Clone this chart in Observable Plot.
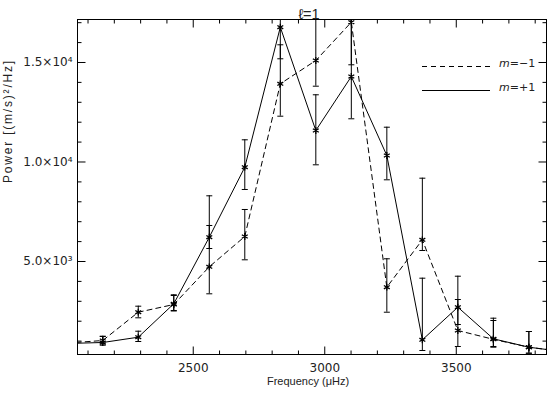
<!DOCTYPE html>
<html><head><meta charset="utf-8">
<script src="https://cdn.jsdelivr.net/npm/d3@7"></script>
<script src="https://cdn.jsdelivr.net/npm/@observablehq/plot@0.6"></script>
<style>
body{margin:0;background:#fff;}
#chart svg{font-family:"Liberation Sans",Arial,sans-serif;}
</style>
</head><body><div id="chart"></div>
<script>
// ---- data ----
const freq       = [2021, 2156, 2291, 2426, 2561, 2696, 2831, 2966, 3101, 3236, 3371, 3506, 3641, 3776, 3911];
// m = -1 (dashed)
const powMinus   = [ 900, 1030, 2452, 2839, 4734, 6256, 13929, 15100, 17025, 3708, 6090, 1533, 1090,  693, 462];
const loMinus    = [ 760,  854, 2171, 2513, 3377, 5085, 12301, 13809, 14884, 2452, 5553,  729,  729,  392, 300];
const hiMinus    = [1100, 1231, 2754, 3291, 6809, 7613, 15889, 18500, 19000, 5136, 9186, 3090, 2035, 1482, 900];
// m = +1 (solid)
const powPlus    = [ 879,  930, 1196, 2874, 6221, 9738, 16774, 11583, 14296, 10326, 1065, 2703, 1116,  693, 462];
const loPlus     = [ 740,  794,  980, 2538, 5653, 8618, 15186,  9859, 12171,  9105,  528, 1834,  693,  392, 300];
const hiPlus     = [1050, 1246, 1497, 3327, 8301, 11115, 19000, 13377, 18500, 11748, 4161, 4261, 2151, 1482, 900];

const seriesNames = ["m=\u22121", "m=+1"];
const xMajor = [2500, 3000, 3500];
const xMinor = d3.range(2100, 3900, 100);
const yMajor = [5000, 10000, 15000];
const yMinor = d3.range(1000, 18000, 1000);
const yTickLabels = ["5.0\u00d710\u00b3", "1.0\u00d710\u2074", "1.5\u00d710\u2074"];
const xTitle = "Frequency (\u03bcHz)";
const yTitle = "Power [(m/s)\u00b2/Hz]";
const chartTitle = "\u2113=1";

// ---- build tables ----
const rows = [];
freq.forEach((f, i) => {
  rows.push({f, s: seriesNames[0], p: powMinus[i], lo: loMinus[i], hi: hiMinus[i]});
  rows.push({f, s: seriesNames[1], p: powPlus[i], lo: loPlus[i], hi: hiPlus[i]});
});
const minus = rows.filter(d => d.s === seriesNames[0]);
const plus = rows.filter(d => d.s === seriesNames[1]);

// custom symbols
const seg = (x1, y1, x2, y2) => ({draw(ctx){ ctx.moveTo(x1, y1); ctx.lineTo(x2, y2); }});
const cap = seg(-3, 0, 3, 0);
const MAJ = 8, MIN = 4;

const tickMarks = [];
for (const [arr, len] of [[xMajor, MAJ], [xMinor.filter(v => !xMajor.includes(v)), MIN]]) {
  tickMarks.push(Plot.dot(arr, {x: d => d, frameAnchor: "bottom", symbol: seg(0, 0, 0, -len), fill: "none", stroke: "black", strokeWidth: 1}));
  tickMarks.push(Plot.dot(arr, {x: d => d, frameAnchor: "top", symbol: seg(0, 0, 0, len), fill: "none", stroke: "black", strokeWidth: 1}));
}
for (const [arr, len] of [[yMajor, MAJ], [yMinor.filter(v => !yMajor.includes(v)), MIN]]) {
  tickMarks.push(Plot.dot(arr, {y: d => d, frameAnchor: "left", symbol: seg(0, 0, len, 0), fill: "none", stroke: "black", strokeWidth: 1}));
  tickMarks.push(Plot.dot(arr, {y: d => d, frameAnchor: "right", symbol: seg(0, 0, -len, 0), fill: "none", stroke: "black", strokeWidth: 1}));
}

const plot = Plot.plot({
  width: 547,
  height: 393,
  marginLeft: 77,
  marginRight: 1,
  marginTop: 19,
  marginBottom: 39,
  style: {fontFamily: "Liberation Sans, Arial, sans-serif", background: "white", color: "black"},
  x: {domain: [2060, 3843]},
  y: {domain: [327, 17160]},
  marks: [
    Plot.axisX({ticks: xMajor, tickSize: 0, tickPadding: 9, label: null, fontSize: 12, fontFamily: "DejaVu Sans", fill: "#222", tickFormat: d => String(d)}),
    Plot.axisY({ticks: yMajor, tickSize: 0, tickPadding: 5, label: null, fontSize: 12, fontFamily: "DejaVu Sans", fill: "#222",
      tickFormat: d => yTickLabels[yMajor.indexOf(d)]}),
    Plot.text([xTitle], {frameAnchor: "bottom", dy: 30, dx: -4, fontSize: 11, fill: "#222", text: d => d}),
    Plot.text([yTitle], {frameAnchor: "left", dx: -69, dy: -4, rotate: -90, fontSize: 12, fill: "#222", text: d => d}),
    Plot.text([chartTitle], {frameAnchor: "top", dy: -11, dx: -3, fontSize: 14.5, fill: "#222", text: d => d}),
    Plot.ruleX(rows, {x: "f", y1: "lo", y2: "hi", stroke: "black", strokeWidth: 1, clip: true}),
    Plot.dot(rows, {x: "f", y: "lo", symbol: cap, fill: "none", stroke: "black", strokeWidth: 1, clip: true}),
    Plot.dot(rows, {x: "f", y: "hi", symbol: cap, fill: "none", stroke: "black", strokeWidth: 1, clip: true}),
    Plot.line(minus, {x: "f", y: "p", stroke: "black", strokeWidth: 1, strokeDasharray: "5,4", clip: true}),
    Plot.line(plus, {x: "f", y: "p", stroke: "black", strokeWidth: 1, clip: true}),
    Plot.dot(rows, {x: "f", y: "p", symbol: "asterisk", r: 3.2, stroke: "black", strokeWidth: 1.3, clip: true}),
    ...tickMarks,
    Plot.frame({stroke: "black", strokeWidth: 1})
  ]
});
document.getElementById("chart").appendChild(plot);

// letter spacing on the y title to mimic the wide original font
d3.select(plot).selectAll("text").filter(function(){ return this.textContent === yTitle; })
  .attr("letter-spacing", "1.8px");

// legend inside the frame (upper right)
const svg = d3.select(plot);
const lg = svg.append("g").attr("fill", "#222").attr("font-size", 11)
  .attr("font-family", "DejaVu Sans").attr("text-anchor", "start");
[[seriesNames[0], "5,4", 66], [seriesNames[1], null, 90]].forEach(([name, dash, y]) => {
  const l = lg.append("line").attr("x1", 422).attr("x2", 490).attr("y1", y + 0.5).attr("y2", y + 0.5)
    .attr("stroke", "black").attr("stroke-width", 1);
  if (dash) l.attr("stroke-dasharray", dash);
  const t = lg.append("text").attr("x", 499).attr("y", y - 3).attr("dy", "0.32em");
  t.append("tspan").attr("font-style", "italic").text(name.slice(0, 1));
  t.append("tspan").text(name.slice(1));
});
</script>
</body></html>
